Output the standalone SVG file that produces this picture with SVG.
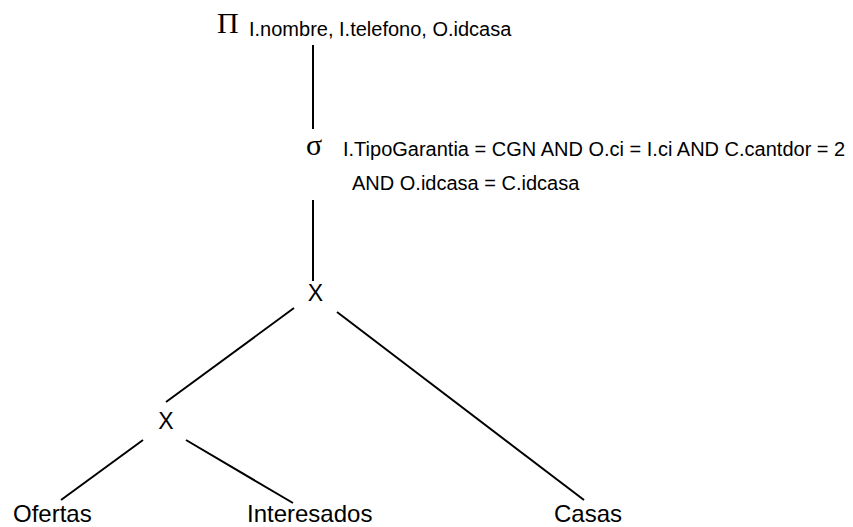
<svg xmlns="http://www.w3.org/2000/svg" width="853" height="527" viewBox="0 0 853 527">
<style>
.sym{font-family:"Liberation Serif","Times New Roman",serif;fill:#000}
.t{font-family:"Liberation Sans",Arial,sans-serif;fill:#000}
.sub{font-size:20px}
.op{font-size:23px}
.rel{font-size:24px}
.e{stroke:#000;stroke-width:2;fill:none}
</style>
<rect width="853" height="527" fill="#fff"/>
<g id="connectors">
<line class="e" x1="313" y1="45" x2="313" y2="129"/>
<line class="e" x1="313" y1="200" x2="313" y2="281"/>
<line class="e" x1="294" y1="308" x2="166" y2="402"/>
<line class="e" x1="337" y1="312" x2="584" y2="500"/>
<line class="e" x1="143" y1="440" x2="61" y2="500"/>
<line class="e" x1="186" y1="440" x2="293" y2="503"/>
</g>
<g id="projection">
<text class="sym" x="217" y="33" font-size="30">Π</text>
<text class="t sub" x="249" y="36">I.nombre, I.telefono, O.idcasa</text>
</g>
<g id="selection">
<text class="sym" x="306" y="155" font-size="30">σ</text>
<text class="t sub" x="343" y="156">I.TipoGarantia = CGN AND O.ci = I.ci AND C.cantdor = 2</text>
<text class="t sub" x="352" y="190">AND O.idcasa = C.idcasa</text>
</g>
<g id="product1">
<text class="t op" x="315.5" y="301" text-anchor="middle">X</text>
</g>
<g id="product2">
<text class="t op" x="166" y="429" text-anchor="middle">X</text>
</g>
<g id="ofertas">
<text class="t rel" x="13" y="522">Ofertas</text>
</g>
<g id="interesados">
<text class="t rel" x="247" y="522">Interesados</text>
</g>
<g id="casas">
<text class="t rel" x="554" y="522">Casas</text>
</g>
</svg>
